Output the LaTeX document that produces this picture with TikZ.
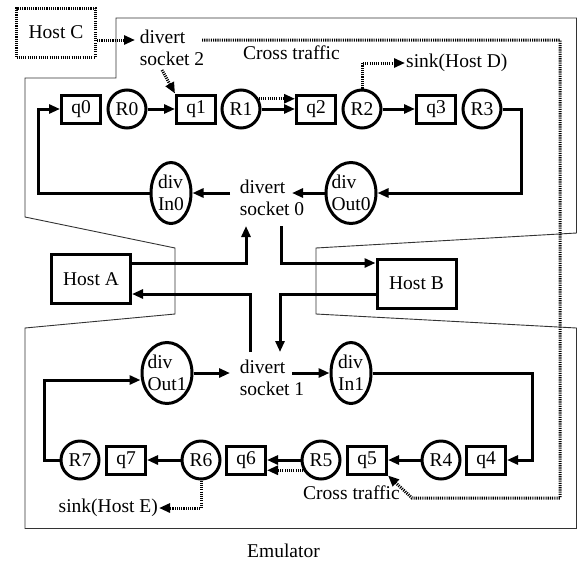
\documentclass[tikz,border=0pt]{standalone}
\usepackage{fontspec}
\setmainfont{Liberation Serif}
\usetikzlibrary{arrows.meta,shapes.geometric,calc}
\begin{document}
\begin{tikzpicture}[x=1pt,y=-1pt,
  font=\fontsize{19.5}{22}\selectfont,
  arr/.style={line width=3pt,-{Triangle[length=11pt,width=9pt]}},
  dotln/.style={line width=3pt,dash pattern=on 1.1pt off 1.1pt},
  dotarr/.style={dotln,-{Triangle[length=11pt,width=9pt]}},
  qbox/.style={draw,line width=3pt,minimum width=39pt,minimum height=28pt,inner sep=0pt},
  rcirc/.style={draw,circle,line width=3pt,minimum size=38pt,inner sep=0pt},
  divell/.style={draw,ellipse,line width=3pt,inner sep=-6pt,align=left,minimum height=61pt},
  host/.style={draw,line width=3pt,minimum width=79pt,minimum height=49pt,inner sep=0pt},
  sock/.style={align=left,inner sep=2pt},
  txt/.style={inner sep=1pt}
]
\useasboundingbox (0,0) rectangle (578,563);
% emulator outline
\draw[line width=0.9pt,black!80] (116,18) -- (576.5,18) -- (576.5,233) -- (316,248) -- (316,314)
  -- (576.5,328) -- (576.5,528.5) -- (25,528.5) -- (25,328) -- (175,314) -- (175,248)
  -- (25,217) -- (25,78) -- (116,78) -- cycle;
\node (emu) at (283.5,551) {Emulator};

% row 1
\node[qbox] (q0) at (81,109) {q0};
\node[rcirc] (R0) at (127,109) {R0};
\node[qbox] (q1) at (196,109) {q1};
\node[rcirc] (R1) at (241,109) {R1};
\node[qbox] (q2) at (316,109) {q2};
\node[rcirc] (R2) at (362,109) {R2};
\node[qbox] (q3) at (436,109) {q3};
\node[rcirc] (R3) at (482,109) {R3};
% row 2
\node[rcirc] (R7) at (80,460) {R7};
\node[qbox] (q7) at (126,460) {q7};
\node[rcirc] (R6) at (201,460) {R6};
\node[qbox] (q6) at (246,460) {q6};
\node[rcirc] (R5) at (321,460) {R5};
\node[qbox] (q5) at (367,460) {q5};
\node[rcirc] (R4) at (441,460) {R4};
\node[qbox] (q4) at (486,460) {q4};
% divert ellipses
\node[divell,minimum width=40pt] (In0) at (171,193) {div\\In0};
\node[divell,minimum width=50pt] (Out0) at (351,193) {div\\Out0};
\node[divell,minimum width=50pt] (Out1) at (167,373) {div\\Out1};
\node[divell,minimum width=40pt] (In1) at (351,373) {div\\In1};
% sockets
\node[sock] (sock0) at (272,198) {divert\\socket 0};
\node[sock] (sock1) at (272,378) {divert\\socket 1};
\node[sock] (sock2) at (172,48) {divert\\socket 2};
% hosts
\node[host] (HostA) at (91,279) {Host A};
\node[host] (HostB) at (416.5,283.5) {Host B};
\node[host,dash pattern=on 1.1pt off 1.1pt] (HostC) at (56,32.5) {Host C};
% texts
\node[txt,anchor=base west] (ctTop) at (242,59) {Cross traffic};
\node[txt,anchor=base west] (ctBot) at (302,499) {Cross traffic};
\node[txt,anchor=west] (sinkD) at (405,63) {sink(Host D)};
\node[txt,anchor=east] (sinkE) at (159,508) {sink(Host E)};

% helper coordinates near sockets
\coordinate (s0in) at (246,226);
\coordinate (s0out) at (281,226);
\coordinate (s1in) at (280,352);
\coordinate (s1out) at (250,352);
\coordinate (s0L) at (230,193);
\coordinate (s0R) at (292,193);
\coordinate (s1L) at (230,373);
\coordinate (s1R) at (292,373);
\coordinate (s2R) at (202,40);
\coordinate (s2L) at (135,40);
\coordinate (s2B) at (162,70);
\coordinate (ctC) at (560,498);
\coordinate (ctD) at (412,498);

% row 1 connectors
\draw[arr] (R0.east) -- (q1.west);
\draw[arr] (R1.east) -- (q2.west);
\draw[dotarr] (R1.30) -- (R1.30 -| q2.west);
\draw[arr] (R2.east) -- (q3.west);
\draw[arr] (R3.east) -- ++(19,0) |- (Out0.east);
\draw[arr] (Out0.west) -- (s0R);
\draw[arr] (s0L) -- (In0.east);
\draw[arr] (In0.west) -- ++(-111,0) |- (q0.west);
% row 2 connectors
\draw[arr] (R4.west) -- (q5.east);
\draw[arr] (R5.west) -- (q6.east);
\draw[dotarr] (R5.210) -- (R5.210 -| q6.east);
\draw[arr] (R6.west) -- (q7.east);
\draw[arr] (R7.west) -- ++(-15,0) |- ([yshift=-7pt]Out1.west);
\draw[arr] (Out1.east) -- (s1L);
\draw[arr] (s1R) -- (In1.west);
\draw[arr] (In1.east) -- ++(160,0) |- (q4.east);
% hosts
\draw[arr] ([yshift=16pt]HostA.east) -| (s0in);
\draw[arr] (s0out) |- ([yshift=20.5pt]HostB.west);
\draw[arr] ([yshift=-10.5pt]HostB.west) -| (s1in);
\draw[arr] (s1out) |- ([yshift=-15pt]HostA.east);
% dotted
\draw[dotarr] ([yshift=-7.5pt]HostC.east) -- (s2L);
\draw[dotarr] (s2B) -- (q1.north west);
\draw[dotarr] (s2R) -| (ctC) -- (ctD) -- (q5.south east);
\draw[dotarr] (R2.north) |- (sinkD.west);
\draw[dotarr] (R6.south) |- (sinkE.east);
\end{tikzpicture}
\end{document}
